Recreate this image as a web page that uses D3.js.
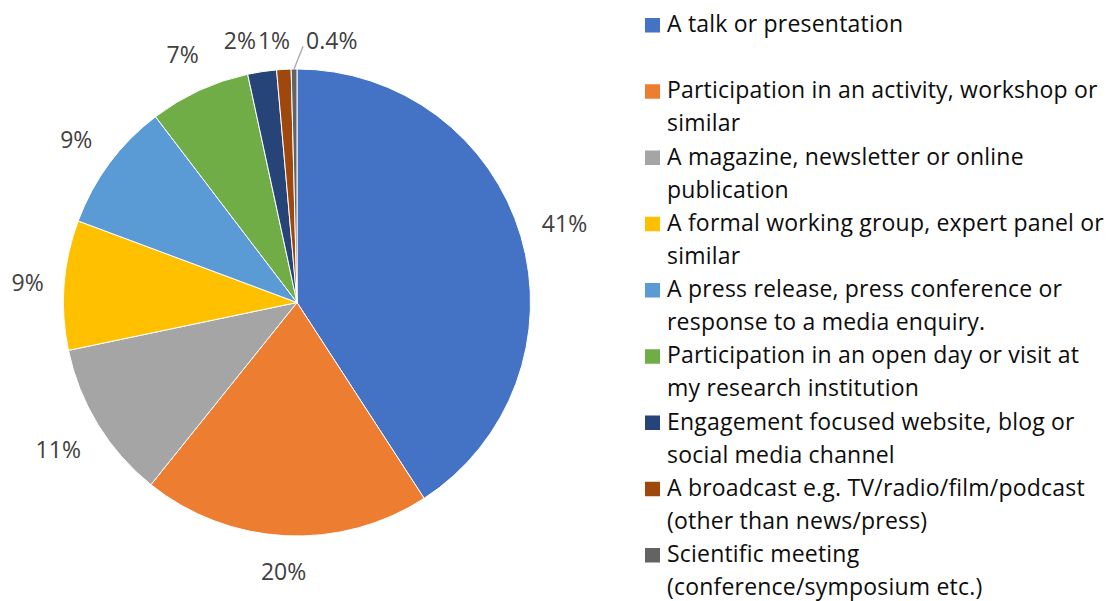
<!DOCTYPE html>
<html>
<head>
<meta charset="utf-8">
<script src="https://cdn.jsdelivr.net/npm/d3@7"></script>
<style>
  body { margin: 0; background: #fff; }
  svg { display: block; font-family: "Open Sans", Lato, sans-serif; }
</style>
</head>
<body>
<div class="chart"></div>
<script>
// categories, in clockwise order from 12 o'clock
var categories = [
  "A talk or presentation",
  "Participation in an activity, workshop or\nsimilar",
  "A magazine, newsletter or online\npublication",
  "A formal working group, expert panel or\nsimilar",
  "A press release, press conference or\nresponse to a media enquiry.",
  "Participation in an open day or visit at\nmy research institution",
  "Engagement focused website, blog or\nsocial media channel",
  "A broadcast e.g. TV/radio/film/podcast\n(other than news/press)",
  "Scientific meeting\n(conference/symposium etc.)"
];
var values = [41, 20, 11, 9, 9, 7, 2, 1, 0.4];
var valueLabels = ["41%", "20%", "11%", "9%", "9%", "7%", "2%", "1%", "0.4%"];
var colors = ["#4472C4", "#ED7D31", "#A5A5A5", "#FFC000", "#5B9BD5", "#70AD47", "#264478", "#9E480E", "#636363"];

var width = 1110, height = 601;
var cx = 297, cy = 302.5, radius = 233.5;

var svg = d3.select('.chart').append('svg')
  .attr('width', width)
  .attr('height', height);

var data = categories.map(function(c, i) {
  return { label: c, value: values[i], text: valueLabels[i], color: colors[i] };
});

var pie = d3.pie()
  .sort(null)
  .value(function(d) { return d.value; });

var arc = d3.arc().innerRadius(0).outerRadius(radius);

var g = svg.append('g').attr('transform', 'translate(' + cx + ',' + cy + ')');

var arcs = pie(data);

g.selectAll('path.slice')
  .data(arcs)
  .enter()
  .append('path')
  .attr('class', 'slice')
  .attr('d', arc)
  .attr('fill', function(d) { return d.data.color; })
  .attr('stroke', '#fff')
  .attr('stroke-width', 1);

// data labels, outside end: the label box sits just off the rim
var r0 = 253, boxH = 30;
var labels = arcs.map(function(d) {
  return { d: d, a: (d.startAngle + d.endAngle) / 2, leader: false };
});

var lab = g.selectAll('text.lbl')
  .data(labels)
  .enter()
  .append('text')
  .attr('class', 'lbl')
  .attr('text-anchor', 'middle')
  .attr('dominant-baseline', 'central')
  .style('font-size', '23px')
  .style('fill', '#404040')
  .text(function(l) { return l.d.data.text; });

lab.each(function(l) {
  l.w = this.getComputedTextLength();
  var s = Math.sin(l.a), c = Math.cos(l.a);
  var dist = r0 + Math.abs(s) * l.w / 2 + Math.abs(c) * boxH / 2;
  l.x = s * dist;
  l.y = -c * dist;
});

// tiny slices get pushed off to the right with a leader line
labels.forEach(function(l) {
  if (l.d.data.value < 1) {
    l.leader = true;
    l.x = Math.sin(l.a) * radius + 12 + l.w / 2;
  }
});
// crowded labels at the top: one row, pushed apart right to left
var topRow = labels.filter(function(l) { return l.y < -255; })
  .sort(function(a, b) { return a.x - b.x; });
var rowY = d3.max(topRow, function(l) { return l.y; }) + 5;
topRow.forEach(function(l) { l.y = rowY; });
for (var i = topRow.length - 2; i >= 0; i--) {
  var right = topRow[i + 1], left = topRow[i];
  var lim = right.x - right.w / 2 - (right.leader ? 16 : 2) - left.w / 2;
  if (left.x > lim) left.x = lim;
}

lab.attr('x', function(l) { return l.x; })
  .attr('y', function(l) { return l.y; });

g.selectAll('line.leader')
  .data(labels.filter(function(l) { return l.leader; }))
  .enter()
  .append('line')
  .attr('class', 'leader')
  .attr('x1', function(l) { return Math.sin(l.a) * radius; })
  .attr('y1', function(l) { return -Math.cos(l.a) * radius; })
  .attr('x2', function(l) { return l.x - l.w / 2 - 3; })
  .attr('y2', function(l) { return l.y + 6; })
  .attr('stroke', '#a6a6a6')
  .attr('stroke-width', 1.3);

// legend
var ly = d3.scalePoint()
  .domain(d3.range(categories.length))
  .range([32, 562]);

var legend = svg.selectAll('.legend')
  .data(data)
  .enter()
  .append('g')
  .attr('class', 'legend')
  .attr('transform', function(d, i) { return 'translate(645,' + ly(i) + ')'; });

legend.append('rect')
  .attr('y', -14)
  .attr('width', 15)
  .attr('height', 14.5)
  .style('fill', function(d) { return d.color; });

legend.append('text')
  .style('font-size', '23px')
  .style('letter-spacing', '0.2px')
  .style('fill', '#0d0d0d')
  .selectAll('tspan')
  .data(function(d) { return d.label.split('\n'); })
  .enter()
  .append('tspan')
  .attr('x', 22)
  .attr('y', function(t, i) { return i * 33; })
  .text(function(t) { return t; });
</script>
</body>
</html>
